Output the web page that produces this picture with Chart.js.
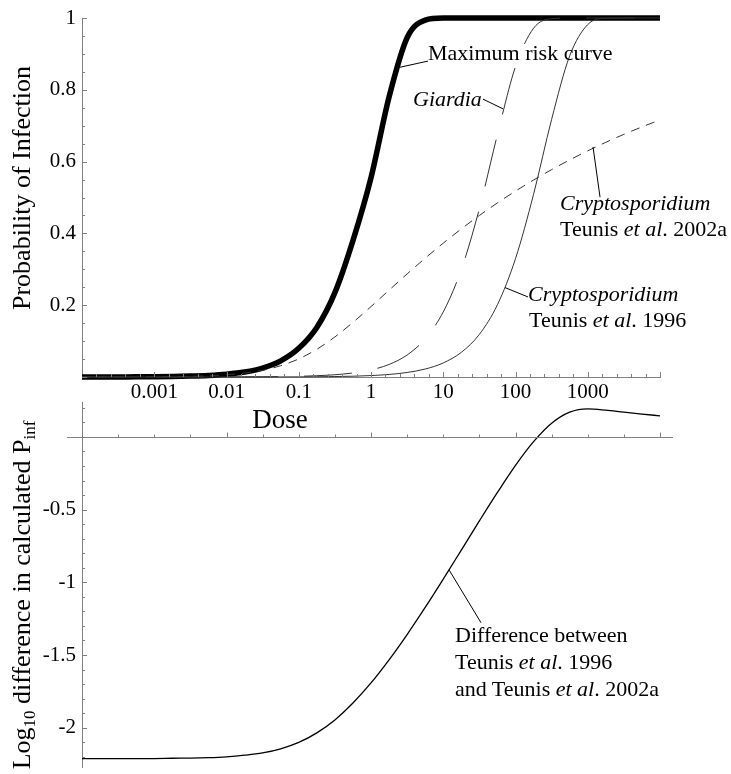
<!DOCTYPE html>
<html>
<head>
<meta charset="utf-8">
<script src="https://cdn.jsdelivr.net/npm/chart.js@4.4.1/dist/chart.umd.min.js"></script>
<style>
  html, body { margin: 0; padding: 0; background: #fff; }
  #wrap { position: relative; width: 731px; height: 774px; overflow: hidden;
          font-family: 'Liberation Serif', 'Times New Roman', serif; color: #000; }
  canvas { position: absolute; left: 0; }
  #cvTop { top: 0; }
  #cvBottom { top: 390px; }
  .lbl { position: absolute; white-space: nowrap; font-size: 22px; line-height: 26px; }
  .ytitle { position: absolute; white-space: nowrap; font-size: 26px; line-height: 30px;
            transform: translate(-50%, -50%) rotate(-90deg); }
  .ytitle sub { font-size: 17px; vertical-align: -5px; line-height: 0; }
</style>
</head>
<body>
<div id="wrap">
  <canvas id="cvTop" width="731" height="450"></canvas>
  <canvas id="cvBottom" width="731" height="384"></canvas>

  <div class="ytitle" style="left:22px; top:188px;">Probability of Infection</div>
  <div class="ytitle" style="left:22px; top:595px;">Log<sub>10</sub> difference in calculated P<sub>inf</sub></div>
  <div class="lbl" style="left:280px; top:419px; font-size:27px; line-height:30px; transform:translate(-50%,-50%);">Dose</div>

  <div class="lbl" style="left:428px; top:40px;">Maximum risk curve</div>
  <div class="lbl" style="left:413px; top:86px;"><i>Giardia</i></div>
  <div class="lbl" style="left:560px; top:190px;"><i>Cryptosporidium</i></div>
  <div class="lbl" style="left:560px; top:216px;">Teunis <i>et al</i>. 2002a</div>
  <div class="lbl" style="left:528px; top:281px;"><i>Cryptosporidium</i></div>
  <div class="lbl" style="left:529px; top:307px;">Teunis <i>et al</i>. 1996</div>
  <div class="lbl" style="left:455px; top:622px;">Difference between</div>
  <div class="lbl" style="left:455px; top:649px;">Teunis <i>et al</i>. 1996</div>
  <div class="lbl" style="left:455px; top:676px;">and Teunis <i>et al</i>. 2002a</div>
</div>

<script>
// log10 of dose, shared by every curve
const logDose = [-4, -3.75, -3.5, -3.25, -3, -2.75, -2.5, -2.25, -2, -1.75, -1.5, -1.25, -1, -0.75, -0.5, -0.25,
                 0, 0.25, 0.5, 0.75, 1, 1.25, 1.5, 1.75, 2, 2.25, 2.5, 2.75, 3, 3.25, 3.5, 3.75, 4];

// probability of infection
const maxRisk = [0.0001, 0.0001, 0.0003, 0.0004, 0.0008, 0.0014, 0.0025, 0.0045, 0.0079, 0.0140, 0.0250, 0.0450,
                 0.0800, 0.1380, 0.2350, 0.3800, 0.5550, 0.7800, 0.9450, 0.9940, 1, 1, 1, 1, 1, 1, 1, 1, 1, 1, 1, 1, 1];
const giardia = [0, 0, 0, 0, 0, 0, 0.0001, 0.0001, 0.0002, 0.0004, 0.0006, 0.0011, 0.0020, 0.0036, 0.0063, 0.0112,
                 0.0198, 0.0349, 0.0613, 0.1064, 0.1813, 0.2993, 0.4687, 0.6753, 0.8647, 0.9715, 0.9982, 1, 1, 1, 1, 1, 1];
const crypto2002a = [0.0001, 0.0001, 0.0002, 0.0004, 0.0007, 0.0012, 0.0020, 0.0036, 0.0063, 0.0110, 0.0188, 0.0314,
                     0.0504, 0.0771, 0.1116, 0.1520, 0.1962, 0.2418, 0.2871, 0.3310, 0.3728, 0.4125, 0.4499, 0.4849,
                     0.5179, 0.5487, 0.5777, 0.6047, 0.6300, 0.6537, 0.6759, 0.6966, 0.7161];
const crypto1996 = [0, 0, 0, 0, 0, 0, 0, 0, 0, 0.0001, 0.0001, 0.0002, 0.0004, 0.0007, 0.0013, 0.0022, 0.0040, 0.0071,
                    0.0126, 0.0222, 0.0392, 0.0687, 0.1188, 0.2014, 0.3297, 0.5090, 0.7178, 0.8945, 0.9817, 0.9992, 1, 1, 1];

// log10 difference between the two Cryptosporidium curves
const logDiff = [-2.213, -2.213, -2.212, -2.212, -2.212, -2.210, -2.209, -2.206, -2.200, -2.189, -2.173, -2.145,
                 -2.101, -2.035, -1.946, -1.830, -1.692, -1.533, -1.359, -1.173, -0.978, -0.778, -0.578, -0.382,
                 -0.196, -0.033, 0.094, 0.170, 0.193, 0.184, 0.170, 0.157, 0.145];

// tick labels
const doseTicks = [-3, -2, -1, 0, 1, 2, 3];
const doseTickLabels = ['0.001', '0.01', '0.1', '1', '10', '100', '1000'];
const probTicks = [0.2, 0.4, 0.6, 0.8, 1];
const probTickLabels = ['0.2', '0.4', '0.6', '0.8', '1'];
const diffTicks = [-2, -1.5, -1, -0.5];
const diffTickLabels = ['-2', '-1.5', '-1', '-0.5'];

const AXIS = '#808080';
const TICK_FONT = { family: 'Liberation Serif', size: 21 };

Chart.defaults.font.family = 'Liberation Serif';
Chart.defaults.color = '#000';

const pts = (ys) => logDose.map((x, i) => ({ x, y: ys[i] }));

function setTicks(values, labels){
  return {
    afterBuildTicks: (s) => { s.ticks = values.map(v => ({ value: v })); },
    callback: (v) => { const i = values.findIndex(t => Math.abs(t - v) < 1e-9); return i < 0 ? '' : labels[i]; },
  };
}

// keep the plot box fixed: no extra room for overhanging tick labels
function pin(size){
  return (s) => {
    if(s.isHorizontal()) s.height = size; else s.width = size;
    s.paddingTop = 0; s.paddingBottom = 0; s.paddingLeft = 0; s.paddingRight = 0;
  };
}

// inward tick marks, optional floating x axis, leader lines
const axisMarks = {
  id: 'axisMarks',
  afterDraw(chart, args, o){
    const { ctx, chartArea: a, scales: { x, y } } = chart;
    const floating = o.xAxisAt !== undefined && o.xAxisAt !== null;
    const yBase = floating ? Math.round(y.getPixelForValue(o.xAxisAt)) + 0.5 : a.bottom;
    const isMajor = (v, step) => Math.abs(v / step - Math.round(v / step)) < 1e-6;

    ctx.save();
    ctx.strokeStyle = AXIS;
    ctx.lineWidth = 1;
    ctx.beginPath();
    if(floating){
      ctx.moveTo(a.left - 15, yBase);
      ctx.lineTo(a.right + 13, yBase);
    }
    let n = Math.round((x.max - x.min) / o.xMinor);
    for(let i = 1; i <= n; i++){
      const v = x.min + i * o.xMinor;
      const px = Math.round(x.getPixelForValue(v)) + 0.5;
      ctx.moveTo(px, yBase);
      ctx.lineTo(px, yBase - (isMajor(v, o.xMajor) ? 5 : 3));
    }
    n = Math.round((o.yTo - o.yFrom) / o.yMinor);
    for(let i = 0; i <= n; i++){
      const v = o.yFrom + i * o.yMinor;
      if(floating && Math.abs(v - o.xAxisAt) < 1e-9) continue;
      const py = Math.round(y.getPixelForValue(v)) + 0.5;
      ctx.moveTo(a.left, py);
      ctx.lineTo(a.left + (isMajor(v, o.yMajor) ? 5 : 3), py);
    }
    ctx.stroke();

    ctx.strokeStyle = '#000';
    ctx.beginPath();
    (o.leaders || []).forEach(([x1, y1, x2, y2]) => {
      ctx.moveTo(x.getPixelForValue(x1), y.getPixelForValue(y1));
      ctx.lineTo(x.getPixelForValue(x2), y.getPixelForValue(y2));
    });
    ctx.stroke();
    ctx.restore();
  }
};

function line(data, width, dash, color){
  return {
    data, borderColor: color || '#000', borderWidth: width, borderDash: dash || [],
    pointRadius: 0, fill: false, cubicInterpolationMode: 'monotone', clip: false,
  };
}

const doseT = setTicks(doseTicks, doseTickLabels);
const probT = setTicks(probTicks, probTickLabels);
const diffT = setTicks(diffTicks, diffTickLabels);

new Chart(document.getElementById('cvTop'), {
  type: 'line',
  data: {
    datasets: [
      line(pts(crypto1996), 1, null, '#333'),
      line(pts(crypto2002a), 1, [9, 7], '#333'),
      line(pts(giardia), 1, [48, 26], '#333'),
      line(pts(maxRisk), 5.5),
    ]
  },
  options: {
    responsive: false,
    animation: false,
    layout: { padding: { top: 18, right: 71, left: 0, bottom: 0 } },
    plugins: {
      legend: { display: false },
      tooltip: { enabled: false },
      axisMarks: {
        xMinor: 0.2, xMajor: 1, yFrom: 0, yTo: 1, yMinor: 0.05, yMajor: 0.2,
        leaders: [
          [0.36, 0.861, 0.789, 0.880],
          [1.55, 0.774, 1.827, 0.747],
          [3.17, 0.501, 3.073, 0.641],
          [1.855, 0.249, 2.173, 0.223],
        ],
      },
    },
    scales: {
      x: {
        type: 'linear', min: -4, max: 4,
        afterFit: pin(73),
        grid: { drawOnChartArea: false, drawTicks: false },
        border: { color: AXIS },
        afterBuildTicks: doseT.afterBuildTicks,
        ticks: { font: TICK_FONT, padding: 3, maxRotation: 0, autoSkip: false, callback: doseT.callback },
      },
      y: {
        min: 0, max: 1,
        afterFit: pin(82),
        grid: { drawOnChartArea: false, drawTicks: false },
        border: { color: AXIS },
        afterBuildTicks: probT.afterBuildTicks,
        ticks: { font: TICK_FONT, padding: 6, autoSkip: false, callback: probT.callback },
      },
    },
  },
  plugins: [axisMarks],
});

new Chart(document.getElementById('cvBottom'), {
  type: 'line',
  data: { datasets: [ line(pts(logDiff), 1.3) ] },
  options: {
    responsive: false,
    animation: false,
    layout: { padding: { top: 12, right: 71, left: 0, bottom: 7 } },
    plugins: {
      legend: { display: false },
      tooltip: { enabled: false },
      axisMarks: {
        xAxisAt: 0, xMinor: 0.5, xMajor: 2, yFrom: -2.2, yTo: 0.2, yMinor: 0.1, yMajor: 0.5,
        leaders: [ [1.08, -0.914, 1.523, -1.278] ],
      },
    },
    scales: {
      x: { type: 'linear', min: -4, max: 4, display: false },
      y: {
        min: -2.27, max: 0.24,
        afterFit: pin(82),
        grid: { drawOnChartArea: false, drawTicks: false },
        border: { color: AXIS },
        afterBuildTicks: diffT.afterBuildTicks,
        ticks: { font: TICK_FONT, padding: 6, autoSkip: false, callback: diffT.callback },
      },
    },
  },
  plugins: [axisMarks],
});
</script>
</body>
</html>
